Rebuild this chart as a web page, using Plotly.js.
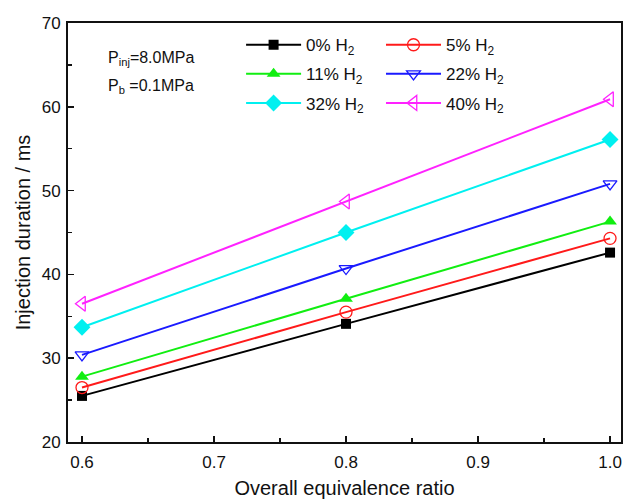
<!DOCTYPE html>
<html><head><meta charset="utf-8">
<script src="https://cdn.plot.ly/plotly-3.0.1.min.js"></script>
<style>html,body{margin:0;padding:0;background:#fff}#c{width:627px;height:499px}</style>
</head><body><div id="c"></div>
<script>
const ratio = [0.6, 0.8, 1.0];
const h0 = [25.5, 34.1, 42.6];
const h5 = [26.5, 35.5, 44.3];
const h11 = [27.8, 37.1, 46.3];
const h22 = [30.4, 40.7, 50.8];
const h32 = [33.7, 45.0, 56.1];
const h40 = [36.5, 48.7, 60.9];
const names = ['0% H<sub>2</sub>','5% H<sub>2</sub>','11% H<sub>2</sub>','22% H<sub>2</sub>','32% H<sub>2</sub>','40% H<sub>2</sub>'];

const FAM = 'Liberation Sans, Arial, sans-serif';
function tr(y, name, color, symbol, size, legend, open, grp) {
  return {x: ratio, y: y, name: name, mode: 'lines+markers', legend: legend, legendgroup: grp,
    line: {color: color, width: 2},
    marker: {symbol: symbol, size: size, color: color, line: {color: color, width: open ? 1.3 : 0}}};
}
const data = [
  tr(h0, names[0], '#000000', 'square', 10, 'legend', false, 'g0'),
  tr(h11, names[2], '#11ee11', 'triangle-up', 12, 'legend', false, 'g2'),
  tr(h32, names[4], '#00f0f0', 'diamond', 13, 'legend', false, 'g4'),
  tr(h5, names[1], '#ff1a1a', 'circle-open', 12, 'legend2', true, 'g1'),
  tr(h22, names[3], '#1a1aff', 'triangle-down-open', 12, 'legend2', true, 'g3'),
  tr(h40, names[5], '#ff22ff', 'triangle-left-open', 13, 'legend2', true, 'g5')
];

const axFont = {family: FAM, size: 17, color: '#111'};
const legFont = {size: 17, family: FAM, color: '#111'};
const layout = {
  width: 627, height: 499,
  margin: {l: 68, r: 6, t: 23, b: 57},
  paper_bgcolor: '#fff', plot_bgcolor: '#fff',
  font: {family: FAM, color: '#111'},
  showlegend: true,
  xaxis: {range: [0.5894, 1.0083], tickvals: [0.6, 0.7, 0.8, 0.9, 1.0], ticktext: ['0.6','0.7','0.8','0.9','1.0'],
    ticks: 'inside', ticklen: 6, tickwidth: 1.5, tickcolor: '#111', ticklabelstandoff: 4,
    minor: {tickvals: [0.65, 0.75, 0.85, 0.95], ticks: 'inside', ticklen: 4, tickwidth: 1.5, tickcolor: '#111'},
    showline: true, linecolor: '#111', linewidth: 2, mirror: true, showgrid: false, zeroline: false,
    tickfont: axFont,
    title: {text: 'Overall equivalence ratio', font: {size: 20, family: FAM, color: '#111'}, standoff: 12}},
  yaxis: {range: [20, 70], tickvals: [20, 30, 40, 50, 60, 70],
    ticks: 'inside', ticklen: 6, tickwidth: 1.5, tickcolor: '#111', ticklabelstandoff: 2,
    minor: {tickvals: [25, 35, 45, 55, 65], ticks: 'inside', ticklen: 4, tickwidth: 1.5, tickcolor: '#111'},
    showline: true, linecolor: '#111', linewidth: 2, mirror: true, showgrid: false, zeroline: false,
    tickfont: axFont,
    title: {text: 'Injection duration / ms', font: {size: 20, family: FAM, color: '#111'}, standoff: 6}},
  legend: {x: 0.313, y: 0.99, xanchor: 'left', yanchor: 'top', bgcolor: 'rgba(0,0,0,0)',
    font: legFont, tracegroupgap: 4, itemwidth: 55},
  legend2: {x: 0.566, y: 0.99, xanchor: 'left', yanchor: 'top', bgcolor: 'rgba(0,0,0,0)',
    font: legFont, tracegroupgap: 4, itemwidth: 55},
  annotations: [
    {text: 'P<sub>inj</sub>=8.0MPa', xref: 'paper', yref: 'paper', x: 0.068, y: 0.915, xanchor: 'left', yanchor: 'middle', showarrow: false,
      font: {size: 16, family: FAM, color: '#111'}},
    {text: 'P<sub>b</sub> =0.1MPa', xref: 'paper', yref: 'paper', x: 0.068, y: 0.848, xanchor: 'left', yanchor: 'middle', showarrow: false,
      font: {size: 16, family: FAM, color: '#111'}}
  ]
};
Plotly.newPlot('c', data, layout, {displayModeBar: false, staticPlot: true});
</script></body></html>
